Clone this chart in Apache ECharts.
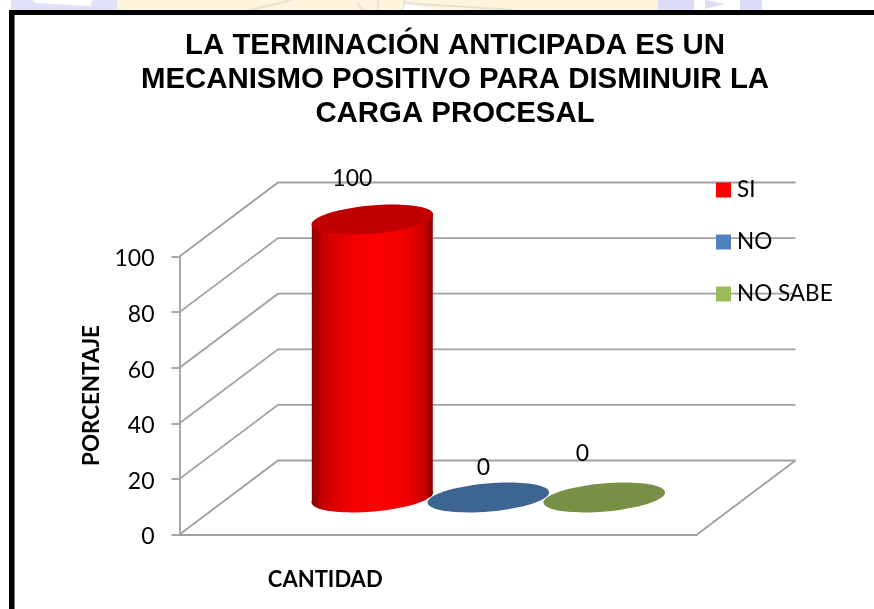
<!DOCTYPE html>
<html>
<head>
<meta charset="utf-8">
<title>Terminación anticipada</title>
<style>
  html, body { margin: 0; padding: 0; background: #fff; }
  #main { width: 874px; height: 609px; }
</style>
<script src="https://cdn.jsdelivr.net/npm/echarts@6/dist/echarts.min.js"></script>
</head>
<body>
<div id="main"></div>
<script>
// datos
var categories = ["CANTIDAD"];
var seriesNames = ["SI", "NO", "NO SABE"];
var siValues = [100];
var noValues = [0];
var noSabeValues = [0];
var yTicks = [0, 20, 40, 60, 80, 100];

var titleText = "LA TERMINACIÓN ANTICIPADA ES UN\nMECANISMO POSITIVO PARA DISMINUIR LA\nCARGA PROCESAL";
var yName = "PORCENTAJE";

// efecto 3D: desplazamiento de la pared del fondo
var depthX = 98.5;
var depthY = 74;
var font = "Lato";

var chart = echarts.init(document.getElementById("main"), null, { renderer: "canvas" });

function wallItem(params, api) {
  var grid = params.coordSys;
  var y = api.coord([0, api.value(1)])[1];
  var x0 = grid.x;
  var x1 = grid.x + grid.width;
  var style = { stroke: "#a0a0a0", lineWidth: 1.8, fill: null };
  var children = [{
    type: "polyline",
    shape: { points: [[x0, y], [x0 + depthX, y - depthY], [x1 + depthX, y - depthY]] },
    style: style
  }];
  if (api.value(1) === 0) {
    children.push({
      type: "line",
      shape: { x1: x1, y1: y, x2: x1 + depthX, y2: y - depthY },
      style: style
    });
  }
  return { type: "group", children: children };
}

// cilindro: cuerpo con degradado y dos elipses inclinadas
function cylinderItem(slot, main, dark, top, labelDx, labelDy) {
  return function (params, api) {
    var band = api.size([1, 0])[0];
    var slotW = band * 116 / 517.5;
    var base = api.coord([api.value(0), 0]);
    var head = api.coord([api.value(0), api.value(1)]);
    var cx = base[0] + (slot - 1) * slotW + depthX / 2 + 0.8;
    var yBase = base[1] - depthY / 2;
    var yTop = head[1] - depthY / 2;
    var rx = 61;
    var ry = 14;
    var tilt = 5 * Math.PI / 180;
    var lift = 4.8;
    var mix = function (t) { return echarts.color.lerp(t, [dark, main]); };
    var grad = new echarts.graphic.LinearGradient(0, 0, 1, 0, [
      { offset: 0, color: mix(0) },
      { offset: 0.1, color: mix(0.55) },
      { offset: 0.3, color: mix(0.85) },
      { offset: 0.55, color: mix(1) },
      { offset: 0.8, color: mix(0.85) },
      { offset: 0.93, color: mix(0.5) },
      { offset: 1, color: mix(0) }
    ]);
    var children = [];
    if (yBase - yTop > 1) {
      children.push({
        type: "ellipse",
        x: cx, y: yBase, rotation: tilt,
        shape: { cx: 0, cy: 0, rx: rx, ry: ry },
        style: { fill: grad }
      });
      children.push({
        type: "polygon",
        shape: { points: [
          [cx - rx + 0.5, yTop + lift], [cx + rx - 0.5, yTop - lift],
          [cx + rx - 0.5, yBase - lift], [cx - rx + 0.5, yBase + lift]
        ] },
        style: { fill: grad }
      });
    }
    children.push({
      type: "ellipse",
      x: cx, y: yTop, rotation: tilt,
      shape: { cx: 0, cy: 0, rx: rx, ry: ry },
      style: { fill: top }
    });
    children.push({
      type: "text",
      x: cx + labelDx, y: yTop + labelDy,
      style: {
        text: String(api.value(1)),
        font: "23px " + font,
        fill: "#000",
        align: "center",
        verticalAlign: "middle"
      }
    });
    return { type: "group", children: children };
  };
}

function stripLine(x1, y1, x2, y2) {
  return {
    type: "line",
    shape: { x1: x1, y1: y1, x2: x2, y2: y2 },
    style: { stroke: "#e6e1d6", lineWidth: 2 }
  };
}

var option = {
  animation: false,
  backgroundColor: "#fff",
  title: {
    text: titleText,
    left: 450,
    top: 24,
    textAlign: "center",
    textStyle: {
      fontFamily: "Liberation Sans",
      fontWeight: "bold",
      fontSize: 29.4,
      lineHeight: 34,
      color: "#000"
    }
  },
  legend: {
    data: seriesNames.map(function (n) { return { name: n, icon: "rect" }; }),
    orient: "vertical",
    left: 716,
    top: 176,
    itemWidth: 15,
    itemHeight: 15,
    itemGap: 24,
    padding: 0,
    selectedMode: false,
    textStyle: { fontFamily: font, fontSize: 22.5, color: "#000", lineHeight: 27, padding: [1, 0, 0, 1] }
  },
  grid: { left: 179.5, top: 256.5, width: 517.5, height: 278 },
  xAxis: {
    type: "category",
    data: categories,
    name: categories[0],
    nameLocation: "middle",
    nameGap: 34,
    nameTextStyle: {
      fontFamily: font, fontWeight: "bold", fontSize: 22, color: "#000",
      padding: [0, 226, 0, 0]
    },
    axisLabel: { show: false },
    axisTick: { show: false },
    axisLine: { lineStyle: { color: "#a0a0a0", width: 1.8 } }
  },
  yAxis: {
    type: "value",
    min: 0,
    max: 100,
    interval: 20,
    name: yName,
    nameLocation: "middle",
    nameGap: 77,
    nameRotate: 90,
    nameTextStyle: { fontFamily: font, fontWeight: "bold", fontSize: 22.4, color: "#000" },
    axisLine: { show: true, lineStyle: { color: "#a0a0a0", width: 1.8 } },
    axisTick: { show: true, length: 8, lineStyle: { color: "#a0a0a0", width: 1.8 } },
    axisLabel: {
      margin: 25,
      fontFamily: font,
      fontSize: 23,
      color: "#000",
      verticalAlign: "top",
      lineHeight: 5
    },
    splitLine: { show: false }
  },
  series: [
    {
      name: "paredes",
      type: "custom",
      silent: true,
      renderItem: wallItem,
      data: yTicks.map(function (t) { return [0, t]; }),
      z: 1
    },
    {
      name: seriesNames[0],
      type: "custom",
      renderItem: cylinderItem(0, "#ff0000", "#8c0000", "#c00000", -20, -41),
      itemStyle: { color: "#ff0000" },
      data: siValues.map(function (v, i) { return [i, v]; }),
      z: 3
    },
    {
      name: seriesNames[1],
      type: "custom",
      renderItem: cylinderItem(1, "#4f81bd", "#3d648f", "#3c6591", -5, -30),
      itemStyle: { color: "#4f81bd" },
      data: noValues.map(function (v, i) { return [i, v]; }),
      z: 3
    },
    {
      name: seriesNames[2],
      type: "custom",
      renderItem: cylinderItem(2, "#9bbb59", "#789046", "#789046", -22, -44),
      itemStyle: { color: "#9bbb59" },
      data: noSabeValues.map(function (v, i) { return [i, v]; }),
      z: 3
    }
  ],
  graphic: [
    // restos de la marca de agua sobre el marco
    { type: "rect", shape: { x: 11, y: 0, width: 106, height: 10 }, style: { fill: "#e1e1fa" } },
    { type: "polygon", shape: { points: [[33, 0], [92, 0], [91, 6], [35, 3]] }, style: { fill: "#fff" } },
    { type: "rect", shape: { x: 117, y: 0, width: 541, height: 10 }, style: { fill: "#fff5dc" } },
    stripLine(250, 10, 292, 0),
    stripLine(357, 3, 363, 10),
    stripLine(378, 0, 378, 10),
    stripLine(403, 10, 405, 0),
    stripLine(405, 3, 513, 10),
    { type: "polygon", shape: { points: [[405, 4], [440, 10], [403, 10]] }, style: { fill: "#fff" } },
    { type: "rect", shape: { x: 658, y: 0, width: 36, height: 10 }, style: { fill: "#dcdcf8" } },
    { type: "polygon", shape: { points: [[705, 0], [725, 4], [705, 9]] }, style: { fill: "#dcdcf8" } },
    { type: "rect", shape: { x: 740, y: 0, width: 22, height: 10 }, style: { fill: "#dcdcf8" } },
    // marco negro
    { type: "rect", shape: { x: 9, y: 10, width: 865, height: 5, r: [3, 0, 0, 0] }, style: { fill: "#000" }, z: 10 },
    { type: "rect", shape: { x: 9, y: 10, width: 5.5, height: 599 }, style: { fill: "#000" }, z: 10 }
  ]
};

chart.setOption(option);
</script>
</body>
</html>
